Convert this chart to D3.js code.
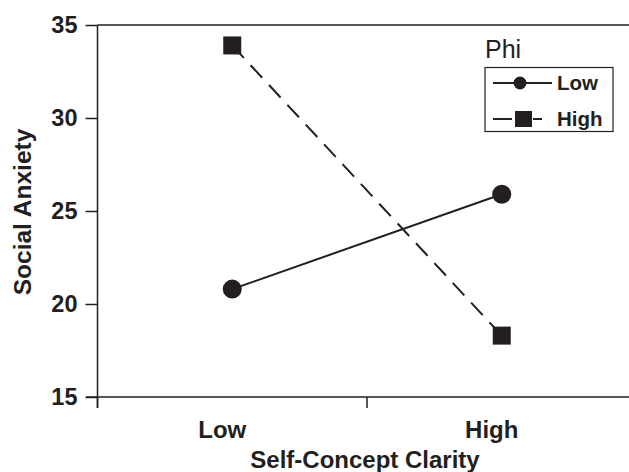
<!DOCTYPE html>
<html><head><meta charset="utf-8">
<script src="https://cdn.jsdelivr.net/npm/d3@7"></script>
<style>
body{margin:0;background:#fff;}
svg{display:block;font-family:"Liberation Sans",Arial,sans-serif;}
</style></head>
<body><svg id="chart" width="629" height="472"></svg>
<script>
const categories = ["Low", "High"];
const seriesNames = ["Low", "High"];
const phiLow = [20.8, 25.9];
const phiHigh = [33.9, 18.3];
const yTicks = [15, 20, 25, 30, 35];
const xTitle = "Self-Concept Clarity";
const yTitle = "Social Anxiety";
const legendTitle = "Phi";

const ink = "#231f20";
const FF = "Liberation Sans, Arial, sans-serif";
const svg = d3.select("#chart");
const x = d3.scaleBand().domain(categories).range([97.5, 636.5]).padding(0);
const y = d3.scaleLinear().domain([15, 35]).range([397, 25]);

// y axis
const yAxis = svg.append("g").attr("transform", "translate(97.5,0)")
  .call(d3.axisLeft(y).tickValues(yTicks).tickSize(12).tickSizeOuter(0).tickPadding(8));
yAxis.select(".domain").remove();
yAxis.selectAll(".tick line").attr("stroke", ink).attr("stroke-width", 1.5);
yAxis.selectAll(".tick text").attr("fill", ink).attr("font-size", 23.5).attr("font-weight", "bold")
  .attr("font-family", FF);
svg.append("line").attr("x1", 97.5).attr("x2", 97.5).attr("y1", y(35)).attr("y2", 408)
  .attr("stroke", ink).attr("stroke-width", 1.5);
svg.append("line").attr("x1", 97.5).attr("x2", 629).attr("y1", y(35)).attr("y2", y(35))
  .attr("stroke", ink).attr("stroke-width", 1.5);

// x axis
const xAxis = svg.append("g").attr("transform", `translate(0,${y(15)})`)
  .call(d3.axisBottom(x).tickSize(0).tickSizeOuter(0).tickPadding(0));
xAxis.select(".domain").remove();
xAxis.selectAll(".tick text").attr("fill", ink).attr("font-size", 24).attr("font-weight", "bold")
  .attr("font-family", FF)
  .attr("dx", -10).attr("dy", 0).attr("y", 41);
svg.append("line").attr("x1", 86).attr("x2", 629).attr("y1", y(15)).attr("y2", y(15))
  .attr("stroke", ink).attr("stroke-width", 1.5);
svg.selectAll(".bticks").data(categories).enter().append("line")
  .attr("x1", d => x(d)).attr("x2", d => x(d)).attr("y1", y(15)).attr("y2", 408)
  .attr("stroke", ink).attr("stroke-width", 1.5);

// titles
svg.append("text").attr("x", 365).attr("y", 468).attr("text-anchor", "middle")
  .attr("font-size", 24).attr("font-weight", "bold").attr("fill", ink).text(xTitle);
svg.append("text").attr("transform", "translate(31,212) rotate(-90)").attr("text-anchor", "middle")
  .attr("font-size", 24.5).attr("font-weight", "bold").attr("fill", ink).text(yTitle);

// series
const cx = d => x(d) + x.bandwidth() / 2;
const line = d3.line().x((d, i) => cx(categories[i])).y(d => y(d));
svg.append("path").datum(phiLow).attr("d", line).attr("fill", "none").attr("stroke", ink).attr("stroke-width", 2);
svg.append("path").datum(phiHigh).attr("d", line).attr("fill", "none").attr("stroke", ink).attr("stroke-width", 2)
  .attr("stroke-dasharray", "17,10");
svg.selectAll(".pl").data(phiLow).enter().append("circle")
  .attr("cx", (d, i) => cx(categories[i])).attr("cy", d => y(d)).attr("r", 9.5).attr("fill", ink);
svg.selectAll(".ph").data(phiHigh).enter().append("rect")
  .attr("x", (d, i) => cx(categories[i]) - 9).attr("y", d => y(d) - 9)
  .attr("width", 18).attr("height", 18).attr("fill", ink);

// legend
svg.append("text").attr("x", 485).attr("y", 58).attr("font-size", 25).attr("fill", ink).text(legendTitle);
svg.append("rect").attr("x", 485).attr("y", 67.5).attr("width", 128).attr("height", 64)
  .attr("fill", "none").attr("stroke", ink).attr("stroke-width", 1.2);
const lg = svg.append("g");
lg.append("line").attr("x1", 493).attr("x2", 552).attr("y1", 83).attr("y2", 83).attr("stroke", ink).attr("stroke-width", 2);
lg.append("circle").attr("cx", 520).attr("cy", 83).attr("r", 6.5).attr("fill", ink);
lg.append("line").attr("x1", 493).attr("x2", 542).attr("y1", 119).attr("y2", 119).attr("stroke", ink).attr("stroke-width", 2)
  .attr("stroke-dasharray", "19,21");
lg.append("rect").attr("x", 515).attr("y", 111).attr("width", 17).attr("height", 16).attr("fill", ink);
lg.selectAll(".lt").data(seriesNames).enter().append("text")
  .attr("x", 557).attr("y", (d, i) => i === 0 ? 90 : 126)
  .attr("font-size", 20.5).attr("font-weight", "bold").attr("fill", ink).text(d => d);
</script></body></html>
